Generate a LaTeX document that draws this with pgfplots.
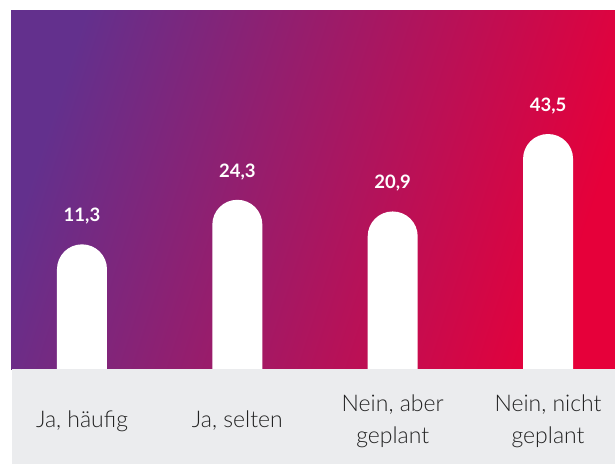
\documentclass[border=0pt]{standalone}
\usepackage{pgfplots}
\pgfplotsset{compat=1.18}
\usepackage{fontspec}
\setmainfont{Lato}
\newfontfamily\lightfont{Lato Light}
\definecolor{gradA}{HTML}{63308D}
\definecolor{gradB}{HTML}{E6003A}
\definecolor{band}{HTML}{EBECEE}
\definecolor{labeltext}{HTML}{222222}

\begin{document}
\begin{tikzpicture}
\useasboundingbox (-11pt,0pt) rectangle (604pt,464pt);
\begin{axis}[
  at={(0pt,0pt)}, anchor=south west,
  scale only axis, width=604pt, height=453pt,
  xmin=-0.457, xmax=3.431,
  ymin=0, ymax=132.2,
  axis on top,
  axis line style={draw=none},
  xtick={0,1,2,3}, ytick=\empty,
  major tick length=0pt,
  xticklabels={{Ja, häufig},{Ja, selten},{Nein, aber\\geplant},{Nein, nicht\\geplant}},
  xticklabel style={anchor=center, yshift=43pt, align=center, text=labeltext,
    font=\lightfont\fontsize{23}{32}\selectfont},
  ybar, bar width=50pt,
  % bars rise from under the grey strip
  y filter/.expression={y+52.8},
  point meta=rawy,
  nodes near coords,
  every node near coord/.append style={font=\bfseries\fontsize{18.5}{20}\selectfont,
    text=white, anchor=center, yshift=28pt},
  /pgf/number format/.cd, use comma, fixed, fixed zerofill, precision=1, assume math mode=true,
]
\shade[left color=gradA, right color=gradB, shading angle=72]
  (rel axis cs:0,0.2097) rectangle (rel axis cs:1,1);
\addplot[fill=white, draw=none, rounded corners=24.9pt]
  coordinates {(0,11.3) (1,24.3) (2,20.9) (3,43.5)};
\fill[band] (rel axis cs:0.0017,0) rectangle (rel axis cs:1,0.2097);
\end{axis}
\end{tikzpicture}
\end{document}
